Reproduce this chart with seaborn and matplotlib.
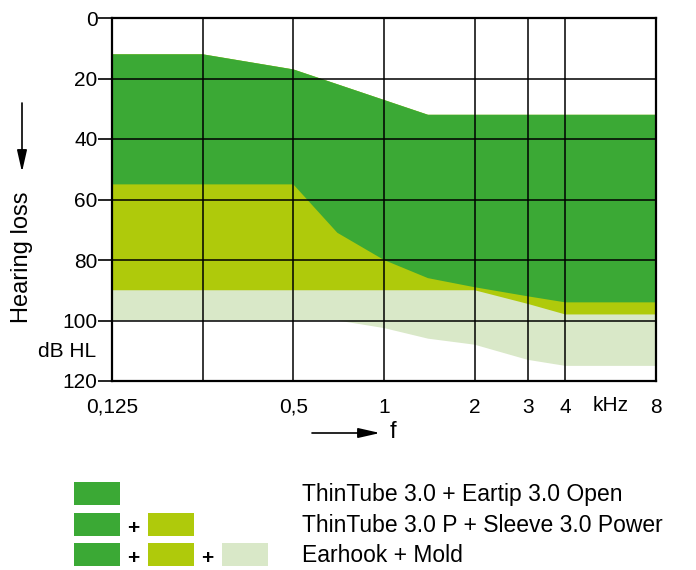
import seaborn as sns
import matplotlib.pyplot as plt
from matplotlib.patches import Rectangle
from matplotlib.ticker import NullLocator

# boundaries of the fitting ranges (frequency in kHz, hearing loss in dB HL)
top_f = [0.125, 0.25, 0.5, 1.4, 8]
top_db = [12, 12, 17, 32, 32]

open_f = [0.125, 0.5, 0.7, 1, 1.4, 2, 3, 4, 8]
open_db = [55, 55, 71, 80, 86, 89, 92, 94, 94]

power_f = [0.125, 2, 3, 4, 8]
power_db = [90, 90, 94.5, 98, 98]

mold_f = [0.125, 0.7, 1, 1.4, 2, 3, 4, 8]
mold_db = [100, 100, 102.5, 106, 108, 113, 115, 115]

x_ticks = [0.125, 0.25, 0.5, 1, 2, 3, 4, 8]
x_labels = ['0,125', '', '0,5', '1', '2', '3', '4', '8']
y_ticks = [0, 20, 40, 60, 80, 100, 120]

legend_labels = ['ThinTube 3.0 + Eartip 3.0 Open',
                 'ThinTube 3.0 P + Sleeve 3.0 Power',
                 'Earhook + Mold']

c_dark = '#3BA935'
c_yellow = '#AFCA0B'
c_light = '#D9E8C8'

sns.set_theme(style='white')
plt.rcParams['font.family'] = ['Liberation Sans', 'DejaVu Sans']
plt.rcParams['text.color'] = 'black'

fig = plt.figure(figsize=(6.96, 5.70), dpi=100)
ax = fig.add_axes([112 / 696, 1 - 381 / 570, 544 / 696, 363 / 570])

# layered areas: widest range first
for lo_f, lo_db, col in [(mold_f, mold_db, c_light),
                         (power_f, power_db, c_yellow),
                         (open_f, open_db, c_dark)]:
    xs = top_f + lo_f[::-1]
    ys = top_db + lo_db[::-1]
    ax.fill(xs, ys, color=col, lw=0, zorder=1)

ax.set_xscale('log')
ax.set_xlim(0.125, 8)
ax.set_ylim(120, 0)
ax.set_xticks(x_ticks)
ax.set_xticklabels(x_labels)
ax.xaxis.set_minor_locator(NullLocator())
ax.set_yticks(y_ticks)

for f in x_ticks[1:-1]:
    ax.axvline(f, color='black', lw=1.1, zorder=2)
for d in y_ticks[1:-1]:
    ax.axhline(d, color='black', lw=1.1, zorder=2)

for s in ax.spines.values():
    s.set_color('black')
    s.set_linewidth(1.6)
    s.set_zorder(3)

ax.tick_params(axis='y', left=True, length=10, width=1.2, color='black',
               pad=0.5, labelsize=15, labelcolor='black')
ax.tick_params(axis='x', bottom=False, length=0, pad=12,
               labelsize=15, labelcolor='black')

ax.text(5.65, 128, 'kHz', ha='center', va='center', fontsize=15, clip_on=False)
ax.text(-0.03, 110.3, 'dB HL', ha='right', va='center', fontsize=15,
        transform=ax.get_yaxis_transform(), clip_on=False)

# axis captions with arrows
fig.text(22 / 696, 1 - 257 / 570, 'Hearing loss', rotation=90,
         ha='center', va='center', fontsize=17)
fig.add_artist(plt.Line2D([22 / 696, 22 / 696], [1 - 103 / 570, 1 - 160 / 570],
                          color='black', lw=1.2))
ax.annotate('', xy=(22 / 696, 1 - 172 / 570), xytext=(22 / 696, 1 - 150 / 570),
            xycoords='figure fraction',
            arrowprops=dict(arrowstyle='-|>,head_length=1.1,head_width=0.25',
                            color='black', lw=1.2, shrinkA=0, shrinkB=0))
fig.add_artist(plt.Line2D([312 / 696, 370 / 696], [1 - 433 / 570, 1 - 433 / 570],
                          color='black', lw=1.2))
ax.annotate('', xy=(380 / 696, 1 - 433 / 570), xytext=(358 / 696, 1 - 433 / 570),
            xycoords='figure fraction',
            arrowprops=dict(arrowstyle='-|>,head_length=1.1,head_width=0.25',
                            color='black', lw=1.2, shrinkA=0, shrinkB=0))
fig.text(393 / 696, 1 - 432 / 570, 'f', ha='center', va='center', fontsize=17)

# legend built from swatches
rows = [[c_dark], [c_dark, c_yellow], [c_dark, c_yellow, c_light]]
row_top = [482, 513, 543]
sw_x = [74, 148, 222]
plus_x = [133, 207]
for i, cols in enumerate(rows):
    y0 = row_top[i]
    for j, col in enumerate(cols):
        fig.add_artist(Rectangle((sw_x[j] / 696, 1 - (y0 + 23) / 570), 46 / 696, 23 / 570,
                                 transform=fig.transFigure, color=col, lw=0))
        if j > 0:
            fig.text(plus_x[j - 1] / 696, 1 - (y0 + 15) / 570, '+', ha='center',
                     va='center', fontsize=15, fontweight='bold')
    fig.text(302 / 696, 1 - (y0 + 12) / 570, legend_labels[i], ha='left',
             va='center', fontsize=16.5)

fig.savefig('out.png', dpi=100)
